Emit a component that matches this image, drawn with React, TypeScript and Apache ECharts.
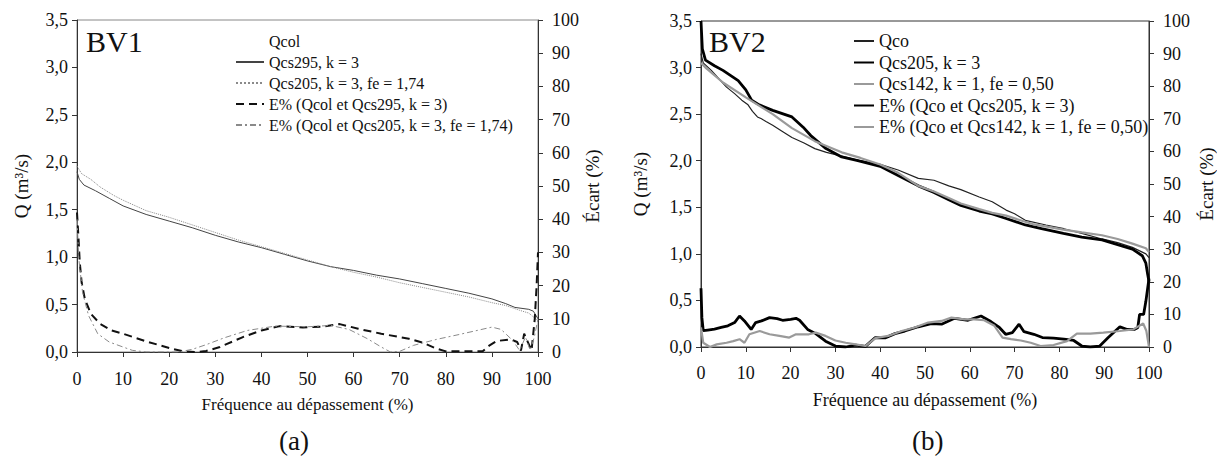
import React, { useEffect, useRef } from 'react';
import * as echarts from 'echarts';

const FONT = 'Liberation Serif';

// ---------- BV1 (a) ----------
const bv1Names = [
  'Qcol',
  'Qcs295, k = 3',
  'Qcs205, k = 3, fe = 1,74',
  'E% (Qcol et Qcs295, k = 3)',
  'E% (Qcol et Qcs205, k = 3, fe = 1,74)',
];
const bv1Qcol: [number, number][] = [];
const bv1Qcs295: [number, number][] = [
  [0, 1.9], [0.5, 1.82], [1.5, 1.76], [4, 1.7], [7, 1.62], [10, 1.54], [15, 1.45], [20, 1.38],
  [25, 1.31], [30, 1.23], [35, 1.16], [40, 1.1], [45, 1.03], [50, 0.96], [55, 0.9], [60, 0.86],
  [65, 0.81], [70, 0.77], [75, 0.72], [80, 0.67], [85, 0.62], [90, 0.56], [93, 0.51], [95, 0.47],
  [98, 0.45], [99, 0.43], [100, 0.35],
];
const bv1Qcs205: [number, number][] = [
  [0, 1.96], [1, 1.88], [3, 1.82], [5, 1.74], [8, 1.65], [10, 1.6], [15, 1.49], [20, 1.42],
  [25, 1.34], [30, 1.26], [35, 1.18], [40, 1.11], [45, 1.04], [50, 0.97], [55, 0.9], [60, 0.84],
  [65, 0.79], [70, 0.73], [75, 0.68], [80, 0.63], [85, 0.58], [90, 0.52], [93, 0.49], [96, 0.44],
  [98, 0.41], [100, 0.33],
];
const bv1E295: [number, number][] = [
  [0, 42], [0.3, 35], [0.6, 27], [1, 21], [1.7, 16], [3, 11.5], [5, 8.5], [7.5, 6.5], [10, 5.5],
  [15, 3.2], [20, 1.2], [23, 0.2], [26, 0], [28, 0.3], [31, 1.5], [36, 4.5], [40, 6.5], [44, 7.8],
  [49, 7.4], [53, 7.6], [57, 8.4], [61, 7], [66, 5.5], [72, 4], [75, 2.8], [78, 1], [80, 0.2],
  [88, 0.2], [89.5, 2], [91, 3.3], [94, 3.8], [95.5, 3], [96.3, 0.4], [97, 5.5], [97.8, 3],
  [98.6, 0.5], [99.3, 10], [99.7, 20], [100, 30],
];
const bv1E205: [number, number][] = [
  [0, 40], [0.4, 28], [1.2, 18], [2.5, 11], [4.5, 5.5], [7, 3], [10, 1.5], [12, 0.5], [15, 0],
  [22, 0], [25, 0.8], [28, 2.2], [32, 4.3], [37, 6.5], [43, 7.8], [50, 7.6], [55, 8], [59, 6.8],
  [63, 4], [66, 1.5], [68, 0], [70, 0.2], [73, 2], [78, 3.8], [83, 5.3], [90, 7.5], [92, 6.8],
  [94.5, 3.5], [96, 0.5], [97.3, 4.5], [98.3, 0.5], [99.2, 4.5], [100, 10],
];

// ---------- BV2 (b) ----------
const bv2Names = [
  'Qco',
  'Qcs205, k = 3',
  'Qcs142, k = 1, fe = 0,50',
  'E% (Qco et Qcs205, k = 3)',
  'E% (Qco et Qcs142, k = 1, fe = 0,50)',
];
const bv2Qco: [number, number][] = [
  [0, 3.15], [0.5, 3.05], [2.3, 2.97], [4, 2.88], [5.7, 2.79], [7.5, 2.72], [9.1, 2.65], [10.5, 2.6],
  [11.5, 2.53], [12.6, 2.47], [13.5, 2.45], [14.5, 2.42], [16, 2.38], [18, 2.32], [20.3, 2.25],
  [23, 2.19], [25.4, 2.13], [28, 2.09], [30.5, 2.06], [35.6, 2.0], [40, 1.96], [44, 1.9],
  [48.5, 1.81], [52, 1.79], [55.3, 1.73], [58, 1.69], [62.1, 1.61], [65, 1.56], [68.1, 1.47],
  [70, 1.43], [72.4, 1.36], [77, 1.31], [81, 1.27], [85, 1.22], [89.5, 1.16], [93, 1.12],
  [96.3, 1.07], [99.3, 1.0], [100, 0.96],
];
const bv2Qcs205: [number, number][] = [
  [0, 3.5], [0.3, 3.2], [1, 3.08], [3, 3.02], [4.9, 2.97], [8.3, 2.86], [10, 2.76], [11.3, 2.65],
  [13, 2.6], [16, 2.54], [20.3, 2.47], [22.8, 2.36], [24.5, 2.27], [27.9, 2.13], [31.4, 2.04],
  [35, 2.0], [40, 1.94], [44, 1.84], [48.5, 1.73], [52, 1.66], [55.3, 1.58], [58, 1.52],
  [62.1, 1.46], [65, 1.43], [68.1, 1.38], [72.4, 1.31], [76, 1.27], [80.9, 1.22], [85, 1.18],
  [89.5, 1.15], [93, 1.1], [96.3, 1.05], [98.5, 0.98], [99.3, 0.9], [99.7, 0.78], [100, 0.7],
];
const bv2Qcs142: [number, number][] = [
  [0, 3.05], [1, 3.0], [4.9, 2.84], [10, 2.68], [16, 2.5], [20.3, 2.35], [25.4, 2.21],
  [31.4, 2.09], [35.6, 2.03], [40, 1.96], [44, 1.87], [48.5, 1.73], [52, 1.67], [55.3, 1.6],
  [58, 1.54], [62.1, 1.48], [65, 1.44], [68.1, 1.41], [72, 1.35], [74, 1.32], [80.9, 1.26],
  [85, 1.23], [89.5, 1.2], [93, 1.16], [96.3, 1.11], [99.3, 1.06], [100, 1.02],
];
const bv2E205: [number, number][] = [
  [0, 18], [0.2, 9], [0.5, 5], [1.5, 5.2], [3, 5.5], [4.5, 6], [6, 6.5], [7.5, 7.5], [8.6, 9.5],
  [9.7, 8], [11.2, 5.4], [12.2, 7.5], [13.5, 8], [15.3, 9], [17, 8.7], [18.2, 8.2], [20, 8.5],
  [21.2, 8.8], [22, 8.2], [23.8, 5.4], [25.6, 4.1], [27.8, 1.8], [30, 0.3], [32.3, 0], [34.5, 0.6],
  [36.7, 0.2], [38.9, 2.9], [41.1, 2.8], [43.3, 4.1], [45.5, 4.9], [48.5, 6.2], [51.4, 7.2],
  [53.7, 7], [56.6, 8.8], [59.6, 8.2], [62.5, 9.5], [64.7, 7.8], [66.6, 6], [68, 3.9], [69.5, 4.4],
  [71, 7], [72.1, 4.7], [74.3, 3.9], [76.2, 2.9], [78.7, 2.7], [81, 2.4], [83.2, 2], [85, 0.3],
  [86.9, 0], [89, 0.3], [90.9, 2.9], [93.5, 6.2], [95, 5.4], [96.8, 5.4], [97.5, 6], [97.9, 10],
  [98.8, 10], [99.3, 14], [100, 21],
];
const bv2E142: [number, number][] = [
  [0, 6], [0.5, 1.3], [2, 0], [3.5, 0.8], [5.7, 1.3], [7.2, 1.8], [8.6, 2.4], [9.7, 1.3],
  [10.8, 3.9], [13.1, 4.9], [15.3, 3.9], [17.5, 3.4], [19.7, 2.9], [21.2, 3.9], [24.1, 3.9],
  [25.6, 4.4], [27.8, 3.4], [30, 2], [32.3, 1.3], [34.5, 0.8], [36.7, 0.3], [38.9, 2.7],
  [41.8, 3.4], [44.8, 4.9], [47.7, 6], [50.7, 7.5], [53.7, 8], [55.9, 9], [58.8, 8.5], [61, 8.5],
  [63.2, 8.2], [65.5, 6.5], [67.3, 2.9], [69.2, 2.4], [71.4, 2], [73.6, 1.3], [75.8, 0.3],
  [78.7, 0.6], [81.7, 1.8], [83.9, 4.1], [86.9, 4.1], [89.8, 4.4], [93.5, 4.9], [96.5, 5.4],
  [98.7, 7.2], [99.4, 5], [100, 0],
];

const xTitle = 'Fréquence au dépassement (%)';
const qTitle = 'Q (m³/s)';
const eTitle = 'Écart (%)';

const commaFmt = (v: number) => v.toFixed(1).replace('.', ',');

function xAxis(gridIndex: number, size: number, labelMargin: number) {
  return {
    type: 'value', gridIndex, min: 0, max: 100, interval: 10,
    name: xTitle, nameLocation: 'middle', nameGap: 44,
    nameTextStyle: { fontFamily: FONT, fontSize: size, color: '#111' },
    axisLine: { show: true, lineStyle: { color: '#333', width: 1 } },
    axisTick: { show: true, inside: false, length: 5, lineStyle: { color: '#333' } },
    axisLabel: { fontFamily: FONT, fontSize: 18, color: '#111', margin: labelMargin },
    splitLine: { show: false },
  };
}
function qAxis(gridIndex: number, gap: number) {
  return {
    type: 'value', gridIndex, min: 0, max: 3.5, interval: 0.5, position: 'left',
    name: qTitle, nameLocation: 'middle', nameGap: gap, nameRotate: 90,
    nameTextStyle: { fontFamily: FONT, fontSize: 19, color: '#111' },
    axisLine: { show: true, lineStyle: { color: '#333', width: 1 } },
    axisTick: { show: true, inside: false, length: 5, lineStyle: { color: '#333' } },
    axisLabel: { fontFamily: FONT, fontSize: 18, color: '#111', margin: 9, formatter: commaFmt },
    splitLine: { show: false },
  };
}
function eAxis(gridIndex: number, gap: number) {
  return {
    type: 'value', gridIndex, min: 0, max: 100, interval: 10, position: 'right',
    name: eTitle, nameLocation: 'middle', nameGap: gap, nameRotate: 90,
    nameTextStyle: { fontFamily: FONT, fontSize: 19, color: '#111' },
    axisLine: { show: true, lineStyle: { color: '#333', width: 1 } },
    axisTick: { show: true, inside: false, length: 5, lineStyle: { color: '#333' } },
    axisLabel: { fontFamily: FONT, fontSize: 18, color: '#111', margin: 14 },
    splitLine: { show: false },
  };
}

function line(name: string, data: [number, number][], xi: number, yi: number, ls: any) {
  return {
    type: 'line', name, data, xAxisIndex: xi, yAxisIndex: yi,
    showSymbol: false, symbol: 'none', smooth: false, lineStyle: ls, itemStyle: { color: ls.color },
    emphasis: { disabled: true }, silent: true,
  };
}

export default function App() {
  const ref = useRef<HTMLDivElement>(null);
  useEffect(() => {
    document.body.style.margin = '0';
    const chart = echarts.init(ref.current!, undefined, { renderer: 'svg' });
    const lsQcol = { color: '#000', width: 1, opacity: 0 };
    const ls295 = { color: '#444', width: 1, type: 'solid' };
    const ls205a = { color: '#8a8a8a', width: 1, type: 'dotted' };
    const lsE295 = { color: '#111', width: 2, type: [8, 5] };
    const lsE205a = { color: '#8a8a8a', width: 1, type: [6, 3, 2, 3] };
    const lsQco = { color: '#222', width: 1.2, type: 'solid' };
    const ls205b = { color: '#000', width: 2.8, type: 'solid' };
    const ls142 = { color: '#9a9a9a', width: 2.2, type: 'solid' };
    const lsE205b = { color: '#000', width: 2.8, type: 'solid' };
    const lsE142 = { color: '#9a9a9a', width: 2.2, type: 'solid' };

    chart.setOption({
      animation: false,
      backgroundColor: '#fff',
      textStyle: { fontFamily: FONT },
      grid: [
        { left: 77, top: 20, width: 461, height: 332, show: true, borderColor: '#888', borderWidth: 1 },
        { left: 701, top: 21, width: 452, height: 326, show: true, borderColor: '#333', borderWidth: 1 },
      ],
      xAxis: [xAxis(0, 17, 18), xAxis(1, 18, 17)],
      yAxis: [qAxis(0, 46), eAxis(0, 43), qAxis(1, 51), eAxis(1, 48)],
      legend: [
        {
          data: bv1Names.map((n, i) => (i === 0 ? { name: n, lineStyle: { opacity: 0 } } : n)),
          orient: 'vertical', left: 230, top: 28, itemWidth: 28, itemHeight: 12, itemGap: 5,
          itemStyle: { opacity: 0 },
          selectedMode: false, textStyle: { fontFamily: FONT, fontSize: 16, color: '#111' },
        },
        {
          data: bv2Names,
          orient: 'vertical', left: 848, top: 27, itemWidth: 20, itemHeight: 12, itemGap: 3.5,
          itemStyle: { opacity: 0 },
          selectedMode: false, textStyle: { fontFamily: FONT, fontSize: 18, color: '#111' },
        },
      ],
      series: [
        line(bv1Names[0], bv1Qcol, 0, 0, lsQcol),
        line(bv1Names[1], bv1Qcs295, 0, 0, ls295),
        line(bv1Names[2], bv1Qcs205, 0, 0, ls205a),
        line(bv1Names[3], bv1E295, 0, 1, lsE295),
        line(bv1Names[4], bv1E205, 0, 1, lsE205a),
        line(bv2Names[0], bv2Qco, 1, 2, lsQco),
        line(bv2Names[1], bv2Qcs205, 1, 2, ls205b),
        line(bv2Names[2], bv2Qcs142, 1, 2, ls142),
        line(bv2Names[3], bv2E205, 1, 3, lsE205b),
        line(bv2Names[4], bv2E142, 1, 3, lsE142),
      ],
      graphic: [
        { type: 'text', left: 86, top: 26, style: { text: 'BV1', fontFamily: FONT, fontSize: 30, fill: '#111' } },
        { type: 'text', left: 709, top: 26, style: { text: 'BV2', fontFamily: FONT, fontSize: 30, fill: '#111' } },
        { type: 'text', left: 279, top: 427, style: { text: '(a)', fontFamily: FONT, fontSize: 27, fill: '#111' } },
        { type: 'text', left: 912, top: 427, style: { text: '(b)', fontFamily: FONT, fontSize: 27, fill: '#111' } },
      ],
    });
    return () => chart.dispose();
  }, []);
  return (
    <>
      <style>{`#root svg text, #root svg tspan { font-family: 'Liberation Serif', 'Times New Roman', serif !important; }`}</style>
      <div ref={ref} style={{ width: 1217, height: 461 }} />
    </>
  );
}
